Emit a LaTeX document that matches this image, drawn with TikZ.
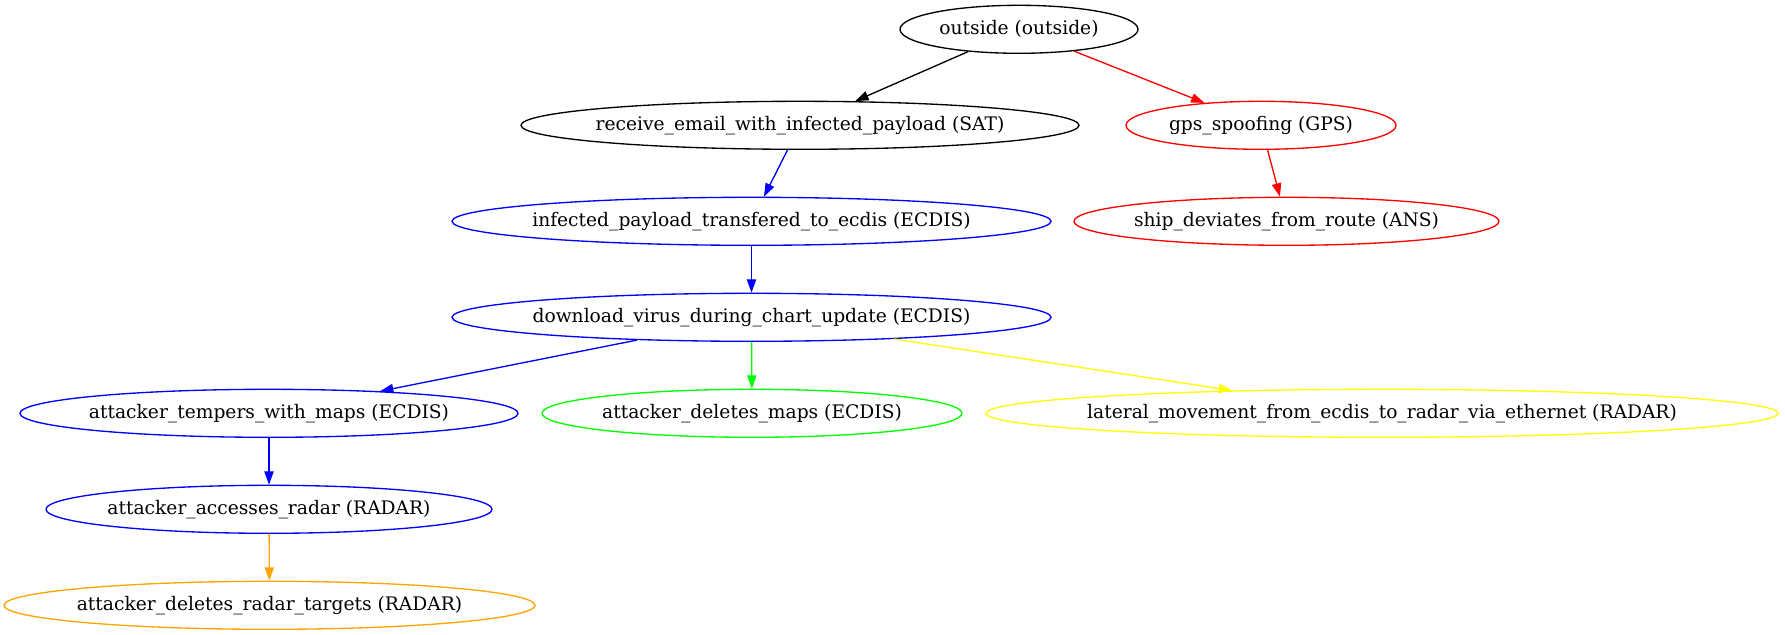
\documentclass[tikz,border=0pt]{standalone}
\usepackage{fontspec}
\setmainfont{DejaVu Serif}
\usetikzlibrary{shapes.geometric,arrows.meta}
\begin{document}
\begin{tikzpicture}[x=0.75pt,y=-0.75pt,
        estado/.style={ellipse, draw, line width=1pt, minimum height=36pt, inner sep=0pt},
        every label/.style={font=\fontsize{14}{16}\selectfont, inner sep=0pt},
        flecha/.style={line width=1pt, -{Triangle[length=10pt,width=7pt]}}]
        % Colores
        \definecolor{gvblue}{RGB}{0,0,255}
        \definecolor{gvred}{RGB}{255,0,0}
        \definecolor{gvgreen}{RGB}{0,255,0}
        \definecolor{gvyellow}{RGB}{255,255,0}
        \definecolor{gvorange}{RGB}{255,165,0}

        \useasboundingbox (0,0) rectangle (1785,635);

        % Nodos (ataques)
        \node[estado, minimum width=178.5pt, label={center:outside (outside)}] (outside) at (1019,29.3) {};
        \node[estado, minimum width=418.5pt, label={center:receive\_email\_with\_infected\_payload (SAT)}] (email) at (800,125.3) {};
        \node[estado, draw=gvred, minimum width=202.5pt, label={center:gps\_spoofing (GPS)}] (gps) at (1261,125.3) {};
        \node[estado, draw=gvblue, minimum width=449.25pt, label={center:infected\_payload\_transfered\_to\_ecdis (ECDIS)}] (payload) at (751.5,221.3) {};
        \node[estado, draw=gvred, minimum width=318.75pt, label={center:ship\_deviates\_from\_route (ANS)}] (ship) at (1286.5,221.3) {};
        \node[estado, draw=gvblue, minimum width=449.25pt, label={center:download\_virus\_during\_chart\_update (ECDIS)}] (virus) at (751.5,317.3) {};
        \node[estado, draw=gvblue, minimum width=373.5pt, label={center:attacker\_tempers\_with\_maps (ECDIS)}] (tempers) at (269,413.3) {};
        \node[estado, draw=gvgreen, minimum width=315pt, label={center:attacker\_deletes\_maps (ECDIS)}] (delmaps) at (752,413.3) {};
        \node[estado, draw=gvyellow, minimum width=594pt, label={center:lateral\_movement\_from\_ecdis\_to\_radar\_via\_ethernet (RADAR)}] (lateral) at (1382,413.3) {};
        \node[estado, draw=gvblue, minimum width=334.5pt, label={center:attacker\_accesses\_radar (RADAR)}] (radar) at (269,509.3) {};
        \node[estado, draw=gvorange, minimum width=398.25pt, label={center:attacker\_deletes\_radar\_targets (RADAR)}] (targets) at (269.5,605.3) {};

        % Aristas
        \draw[flecha] (outside) -- (email);
        \draw[flecha, gvred] (outside) -- (gps);
        \draw[flecha, gvblue] (email) -- (payload);
        \draw[flecha, gvred] (gps) -- (ship);
        \draw[flecha, gvblue] (payload) -- (virus);
        \draw[flecha, gvblue] (virus) -- (tempers);
        \draw[flecha, gvgreen] (virus) -- (delmaps);
        \draw[flecha, gvyellow] (virus) -- (lateral);
        \draw[flecha, gvblue] (tempers) -- (radar);
        \draw[flecha, gvorange] (radar) -- (targets);

    \end{tikzpicture}
\end{document}
